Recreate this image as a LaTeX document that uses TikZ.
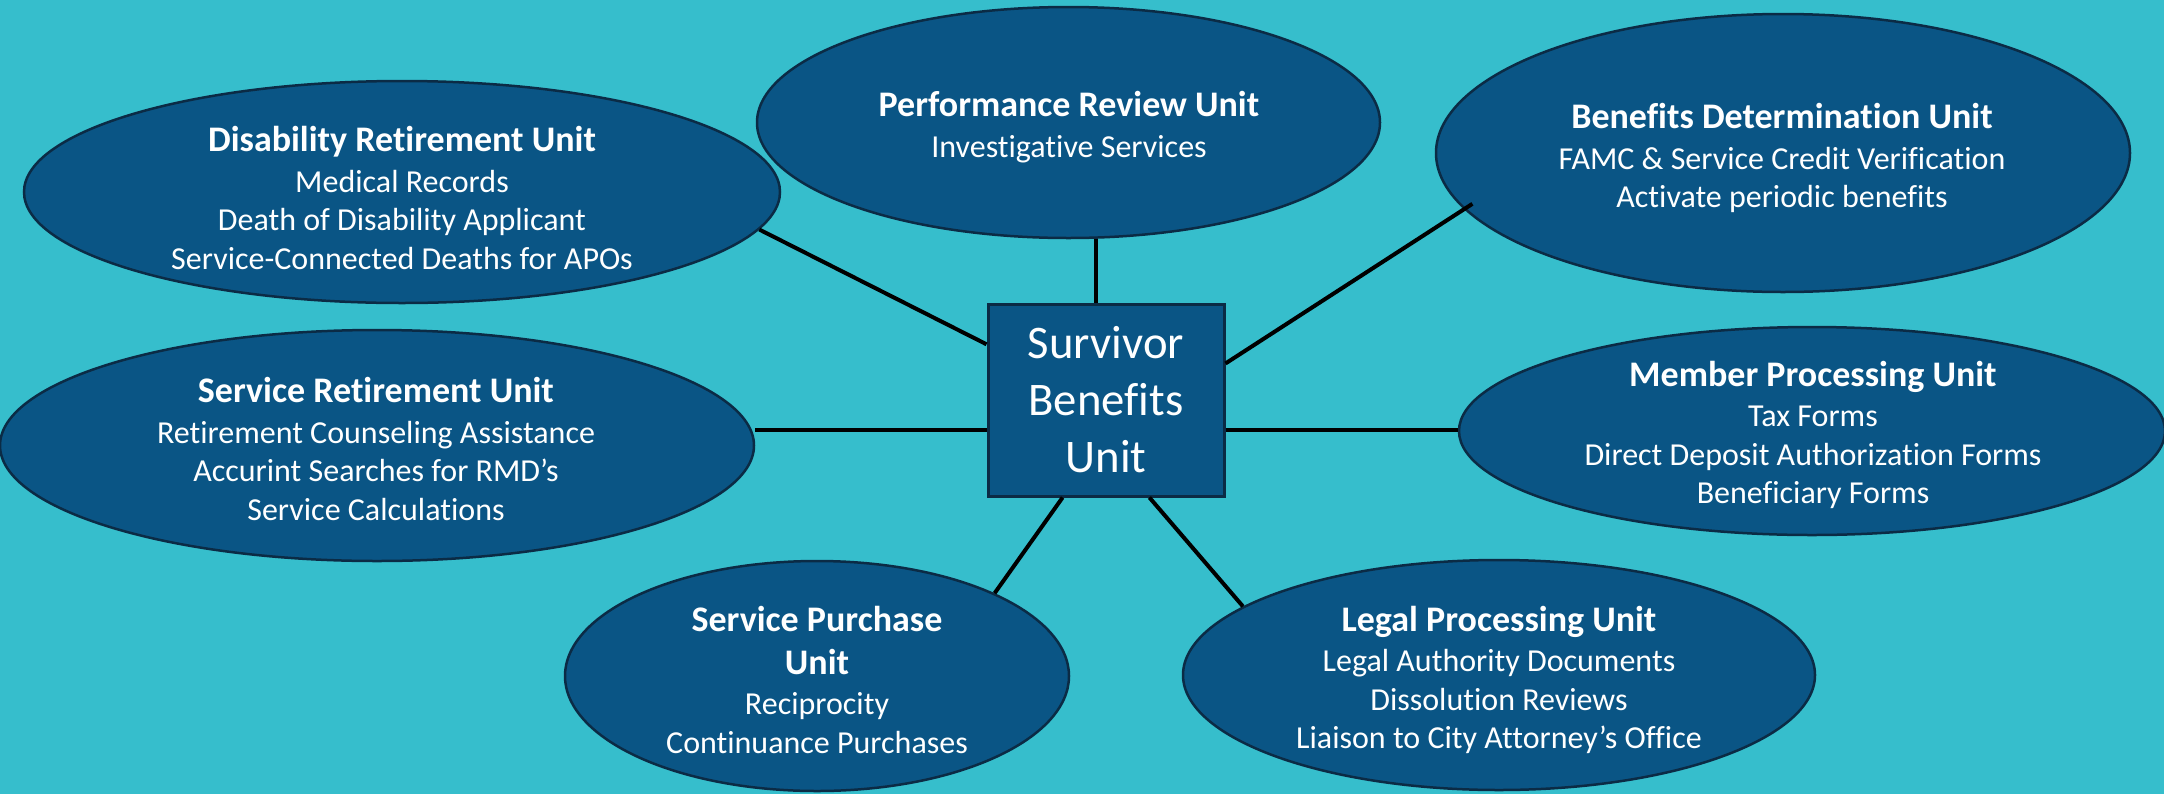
\documentclass[tikz,border=0pt]{standalone}
\usepackage{fontspec}
\setmainfont{Carlito}[Ligatures=NoCommon]
\usetikzlibrary{shapes.geometric}
\definecolor{bgcyan}{HTML}{36BECC}
\definecolor{unitblue}{HTML}{0A5585}
\definecolor{rimnavy}{HTML}{0B2B45}
\newcommand{\bodysize}{\fontsize{32}{38.5}\selectfont}
\newcommand{\ttlsize}{\fontsize{36}{42}\selectfont\bfseries}
\begin{document}
\begin{tikzpicture}[x=1pt,y=-1pt,
  unit/.style={ellipse, draw=rimnavy, line width=2.5pt, fill=unitblue, inner sep=0pt},
  hub/.style={rectangle, draw=rimnavy, line width=3pt, fill=unitblue, inner sep=0pt,
    minimum width=236pt, minimum height=192pt, text=white, align=center,
    font=\fontsize{46.7}{57}\selectfont},
  utext/.style={text=white, align=center, font=\bodysize, inner sep=0pt},
  link/.style={line width=4pt, draw=black}]
% canvas: fixed page size first, then a slightly oversized background
\useasboundingbox (0,0) rectangle (2164,793);
\fill[bgcyan] (-6,-6) rectangle (2170,799);

% unit ellipses
\node[unit, minimum width=756pt, minimum height=222pt] (dis) at (402,192) {};
\node[unit, minimum width=623pt, minimum height=231pt] (pr) at (1068.5,122.5) {};
\node[unit, minimum width=694pt, minimum height=278pt] (bd) at (1783,153) {};
\node[unit, minimum width=754pt, minimum height=231pt] (sr) at (377,445.5) {};
\node[unit, minimum width=706pt, minimum height=208pt] (mp) at (1812,431) {};
\node[unit, minimum width=504pt, minimum height=230pt] (sp) at (817,676) {};
\node[unit, minimum width=632pt, minimum height=230pt] (lp) at (1499,675) {};

% central unit
\node[hub] (hub) at (1106,400) {Survivor\\Benefits\\Unit};

% connectors
\draw[link] (hub.155) -- (dis.-6.5);
\draw[link] (hub.96) -- (hub.96 |- pr.south);
\draw[link, shorten >=-10pt] (hub.17.8) -- (bd.190.8);
\draw[link] (hub.194.7) -- (hub.194.7 -| sr.east);
\draw[link] (hub.-14.7) -- (hub.-14.7 -| mp.west);
\draw[link] (hub.246.9) -- (sp.25);
\draw[link] (hub.-66.4) -- (lp.165.4);

% unit descriptions
\node[utext] (dis-t) at (402,198) {{\ttlsize Disability Retirement Unit}\\[2pt]
  Medical Records\\ Death of Disability Applicant\\ Service-Connected Deaths for APOs};
\node[utext] (pr-t) at (1069,127) {{\ttlsize Performance Review Unit}\\[2pt]
  Investigative Services};
\node[utext] (bd-t) at (1782,158) {{\ttlsize Benefits Determination Unit}\\[2pt]
  FAMC \& Service Credit Verification\\ Activate periodic benefits};
\node[utext] (sr-t) at (376,449) {{\ttlsize Service Retirement Unit}\\[2pt]
  Retirement Counseling Assistance\\ Accurint Searches for RMD’s\\ Service Calculations};
\node[utext] (mp-t) at (1813,435) {{\ttlsize Member Processing Unit}\\[2pt]
  Tax Forms\\ Direct Deposit Authorization Forms\\ Beneficiary Forms};
\node[utext] (sp-t) at (817,680) {{\ttlsize Service Purchase}\\[4pt]{\ttlsize Unit}\\[2pt]
  Reciprocity\\ Continuance Purchases};
\node[utext] (lp-t) at (1499,680) {{\ttlsize Legal Processing Unit}\\[2pt]
  Legal Authority Documents\\ Dissolution Reviews\\ Liaison to City Attorney’s Office};
\end{tikzpicture}
\end{document}
